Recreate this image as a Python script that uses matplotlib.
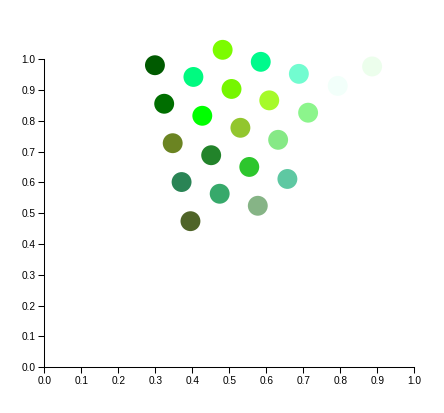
import matplotlib
matplotlib.use("Agg")
import matplotlib.pyplot as plt

# point positions
xs = [0.299, 0.482, 0.585, 0.403, 0.506, 0.608, 0.324, 0.427, 0.530,
      0.688, 0.793, 0.886, 0.713,
      0.347, 0.451, 0.554, 0.632, 0.371, 0.474, 0.577, 0.657, 0.395]
ys = [0.980, 1.030, 0.991, 0.942, 0.903, 0.866, 0.855, 0.816, 0.777,
      0.952, 0.913, 0.976, 0.826,
      0.727, 0.688, 0.650, 0.738, 0.601, 0.563, 0.524, 0.611, 0.474]
colors = ["#005a00", "#7cfc00", "#00fa8c", "#00fa80", "#76f600", "#a6fa2a",
          "#006e00", "#00ff00", "#92c62e",
          "#72fcd0", "#f2fffa", "#ecfeec", "#8cf58c",
          "#6b8422", "#22832a", "#2dc62d", "#86e986", "#2a8455", "#37a96b",
          "#86b486", "#5ec8a2", "#4f6428"]
ticks = [i / 10 for i in range(11)]

plt.rcParams["font.family"] = ["Liberation Sans", "DejaVu Sans"]

fig = plt.figure(figsize=(4.44, 4.13), dpi=100)
ax = fig.add_axes([0.0998, 0.1107, 0.8333, 0.7463])

ax.scatter(xs, ys, s=205, c=colors, linewidths=0, clip_on=False, zorder=3)

ax.set_xlim(0, 1)
ax.set_ylim(0, 1)
ax.set_xticks(ticks)
ax.set_yticks(ticks)
ax.set_xticklabels([f"{t:.1f}" for t in ticks])
ax.set_yticklabels([f"{t:.1f}" for t in ticks])
ax.tick_params(length=4.3, width=0.75, labelsize=7.3, pad=2, colors="black")
for side in ["top", "right"]:
    ax.spines[side].set_visible(False)
for side in ["left", "bottom"]:
    ax.spines[side].set_linewidth(0.75)

fig.savefig("out.png", dpi=100)
